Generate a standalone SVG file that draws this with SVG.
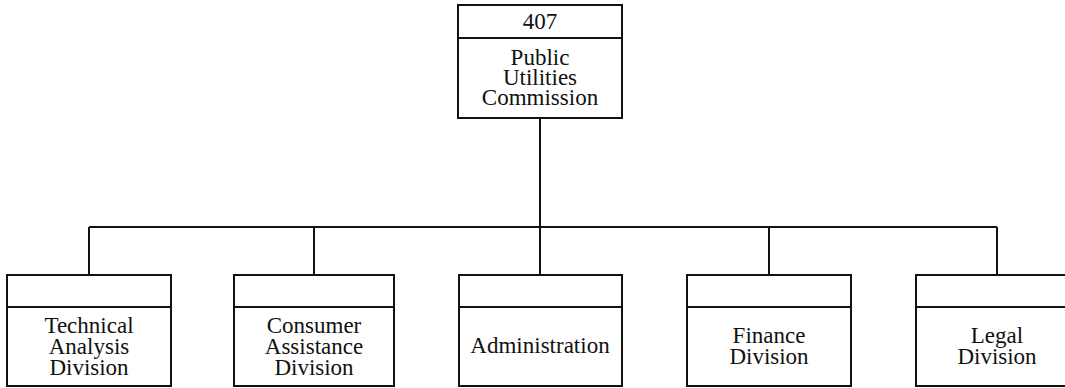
<svg xmlns="http://www.w3.org/2000/svg" width="1065" height="388" viewBox="0 0 1065 388">
<style>
.box{fill:#fff;stroke:#111;stroke-width:2}
.ln{stroke:#111;stroke-width:2;fill:none}
text{font-family:"Liberation Serif","Times New Roman",serif;font-size:23px;fill:#111;text-anchor:middle}
</style>
<rect width="1065" height="388" fill="#fff"/>
<g id="connectors">
<line class="ln" x1="540" y1="118" x2="540" y2="275"/>
<line class="ln" x1="89" y1="227" x2="997" y2="227"/>
<line class="ln" x1="89" y1="227" x2="89" y2="275"/>
<line class="ln" x1="314" y1="227" x2="314" y2="275"/>
<line class="ln" x1="769" y1="227" x2="769" y2="275"/>
<line class="ln" x1="997" y1="227" x2="997" y2="275"/>
</g>
<g id="puc">
<rect class="box" x="458" y="5" width="164" height="113"/>
<line class="ln" x1="458" y1="38" x2="622" y2="38"/>
<text x="540" y="29">407</text>
<text x="540" y="65">Public</text>
<text x="540" y="85">Utilities</text>
<text x="540" y="105">Commission</text>
</g>
<g id="technical">
<rect class="box" x="7" y="275" width="164" height="111"/>
<line class="ln" x1="7" y1="307" x2="171" y2="307"/>
<text x="89" y="333">Technical</text>
<text x="89" y="354">Analysis</text>
<text x="89" y="375">Division</text>
</g>
<g id="consumer">
<rect class="box" x="234" y="275" width="160" height="111"/>
<line class="ln" x1="234" y1="307" x2="394" y2="307"/>
<text x="314" y="333">Consumer</text>
<text x="314" y="354">Assistance</text>
<text x="314" y="375">Division</text>
</g>
<g id="administration">
<rect class="box" x="459" y="275" width="163" height="111"/>
<line class="ln" x1="459" y1="307" x2="622" y2="307"/>
<text x="540" y="353">Administration</text>
</g>
<g id="finance">
<rect class="box" x="687" y="275" width="164" height="111"/>
<line class="ln" x1="687" y1="307" x2="851" y2="307"/>
<text x="769" y="343">Finance</text>
<text x="769" y="364">Division</text>
</g>
<g id="legal">
<rect class="box" x="916" y="275" width="162" height="111"/>
<line class="ln" x1="916" y1="307" x2="1078" y2="307"/>
<text x="997" y="343">Legal</text>
<text x="997" y="364">Division</text>
</g>
</svg>
